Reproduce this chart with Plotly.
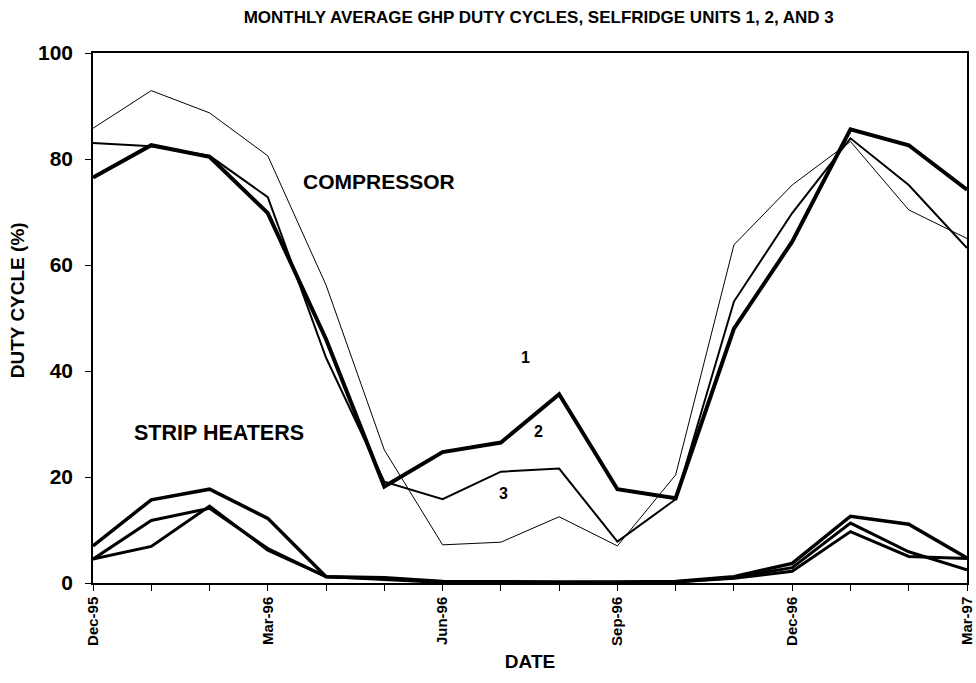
import plotly.graph_objects as go

# months on the x axis (categorical, like the original spreadsheet chart)
months = ["Dec-95", "Jan-96", "Feb-96", "Mar-96", "Apr-96", "May-96", "Jun-96", "Jul-96",
          "Aug-96", "Sep-96", "Oct-96", "Nov-96", "Dec-96", "Jan-97", "Feb-97", "Mar-97"]
tick_labels = [m if i % 3 == 0 else "" for i, m in enumerate(months)]

# compressor duty cycle (%)
comp_unit1 = [76.5, 82.6, 80.4, 69.8, 46.0, 18.2, 24.7, 26.5, 35.6, 17.7, 16.0, 48.0, 64.4, 85.6, 82.6, 74.2]
comp_unit2 = [83.0, 82.4, 80.6, 72.8, 42.5, 19.1, 15.8, 21.0, 21.6, 7.8, 15.8, 53.1, 69.8, 83.9, 75.1, 63.2]
comp_unit3 = [85.8, 92.9, 88.7, 80.6, 56.2, 25.1, 7.2, 7.7, 12.5, 7.0, 20.4, 63.8, 75.1, 83.3, 70.4, 65.0]

# strip heater duty cycle (%)
heat_unit1 = [7.0, 15.7, 17.7, 12.2, 1.2, 1.0, 0.3, 0.2, 0.2, 0.2, 0.3, 1.2, 3.7, 12.6, 11.1, 4.7]
heat_unit2 = [4.5, 11.8, 14.1, 6.5, 1.2, 0.8, 0.2, 0.1, 0.1, 0.1, 0.2, 1.0, 2.9, 11.3, 5.9, 2.5]
heat_unit3 = [4.5, 6.9, 14.5, 6.2, 1.2, 0.6, 0.1, 0.1, 0.1, 0.1, 0.2, 0.9, 2.2, 9.7, 5.0, 4.6]

fig = go.Figure()
for ys, w in [(comp_unit3, 1), (comp_unit2, 2), (comp_unit1, 4),
              (heat_unit3, 3), (heat_unit2, 3), (heat_unit1, 3.5)]:
    fig.add_trace(go.Scatter(x=list(range(len(months))), y=ys, mode="lines",
                             line=dict(color="black", width=w), showlegend=False,
                             hoverinfo="skip"))

bold = "Liberation Sans, Arial, sans-serif"
notes = [("COMPRESSOR", 4.9, 75.7, 21), ("STRIP HEATERS", 2.17, 28.3, 21.5),
         ("1", 7.42, 42.6, 16), ("2", 7.64, 28.5, 16), ("3", 7.04, 16.8, 16)]
for txt, xx, yy, sz in notes:
    fig.add_annotation(x=xx, y=yy, text="<b>" + txt + "</b>", showarrow=False,
                       font=dict(family=bold, size=sz, color="black"))

# y title as an annotation, it sits a little above the middle of the axis
fig.add_annotation(xref="paper", yref="paper", x=-0.0855, y=0.534, textangle=-90,
                   xanchor="center", yanchor="middle",
                   text="<b>DUTY CYCLE (%)</b>", showarrow=False,
                   font=dict(family=bold, size=19, color="black"))

fig.update_layout(
    width=976, height=683,
    margin=dict(l=93, r=9, t=53, b=100),
    paper_bgcolor="white", plot_bgcolor="white",
    title=dict(text="<b>MONTHLY AVERAGE GHP DUTY CYCLES, SELFRIDGE UNITS 1, 2, AND 3</b>",
               xref="paper", x=0.51, xanchor="center",
               yref="container", y=0.975, yanchor="middle",
               font=dict(family=bold, size=17, color="black")),
    font=dict(family=bold, color="black"),
)
fig.update_xaxes(range=[0, 15], tickmode="array", tickvals=list(range(len(months))),
                 ticktext=["<b>" + t + "</b>" if t else "" for t in tick_labels],
                 tickangle=-90, tickfont=dict(size=15), ticks="outside", ticklen=6,
                 tickcolor="black", showline=True, linecolor="black", linewidth=1.5,
                 mirror=True, showgrid=False, zeroline=False, automargin=False,
                 ticklabeloverflow="allow",
                 title=dict(text="<b>DATE</b>", font=dict(size=19), standoff=10))
fig.update_yaxes(range=[0, 100], dtick=20, tickfont=dict(size=21), ticks="outside",
                 ticklen=6, tickcolor="black", showline=True, linecolor="black",
                 linewidth=1.5, mirror=True, showgrid=False, zeroline=False,
                 tickprefix="<b>", ticksuffix="</b>", automargin=False,
                 ticklabelstandoff=8)

# drop the default 8px page margin so the figure fills the window exactly
fig.write_html("out.html", config={"displayModeBar": False},
               post_script="document.body.style.margin='0';document.body.style.overflow='hidden';")
